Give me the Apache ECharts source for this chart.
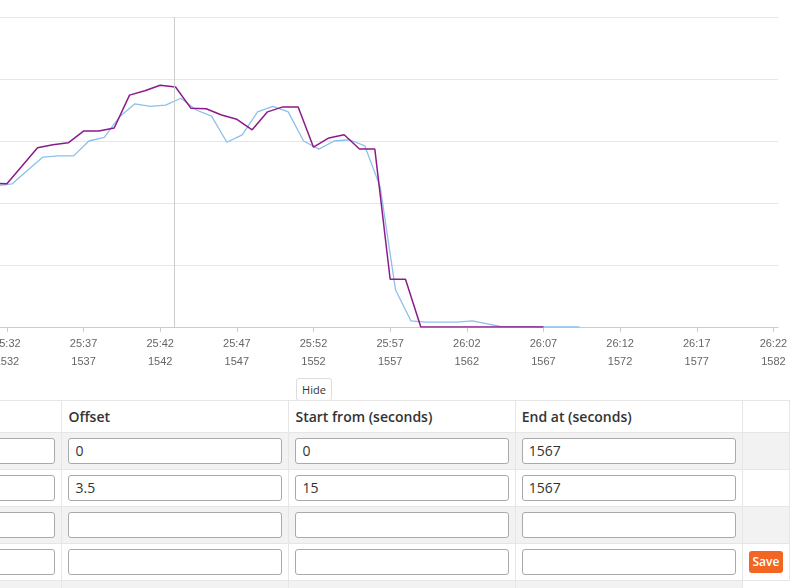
<!DOCTYPE html>
<html><head><meta charset="utf-8">
<script src="https://cdn.jsdelivr.net/npm/echarts@6/dist/echarts.min.js"></script>
<style>
body{margin:0;width:800px;height:588px;overflow:hidden;background:#fff;font-family:"Open Sans",sans-serif;color:#333}
#chart{position:absolute;left:0;top:0;width:800px;height:375px}
#hide{position:absolute;left:296px;top:378px;width:34px;height:21px;border:1px solid #ddd;border-radius:3px;font-size:11px;line-height:21px;text-align:center;background:#fff}
table{position:absolute;left:-10px;top:400px;border-collapse:collapse;font-size:14px}
td,th{border:1px solid #e6e6e6;padding:0 6px;box-sizing:border-box}
th{height:32px;text-align:left;font-weight:600}
tr.g td{background:#f2f2f2}
td{height:37px}
.in{height:26px;border:1px solid #aaa;border-radius:3px;background:#fff;box-sizing:border-box;padding:2px 6px;font-size:14px;line-height:20px}
.save{background:#f26522;color:#fff;border-radius:3px;font-size:12px;font-weight:600;width:34px;height:22px;line-height:22px;text-align:center}
</style></head><body>
<div id="chart"></div>
<div id="hide">Hide</div>
<table>
<tr><th style="width:72px"></th><th style="width:229px">Offset</th><th style="width:228px">Start from (seconds)</th><th style="width:229px">End at (seconds)</th><th style="width:47px"></th></tr>
<tr class="g"><td><div class="in"></div></td><td><div class="in">0</div></td><td><div class="in">0</div></td><td><div class="in">1567</div></td><td></td></tr>
<tr><td><div class="in"></div></td><td><div class="in">3.5</div></td><td><div class="in">15</div></td><td><div class="in">1567</div></td><td></td></tr>
<tr class="g"><td><div class="in"></div></td><td><div class="in"></div></td><td><div class="in"></div></td><td><div class="in"></div></td><td></td></tr>
<tr><td><div class="in"></div></td><td><div class="in"></div></td><td><div class="in"></div></td><td><div class="in"></div></td><td><div class="save">Save</div></td></tr>
<tr class="g"><td style="height:10px"></td><td></td><td></td><td></td><td style="background:#fff;border:none"></td></tr>
</table>
<script>
const purpleT = [1531,1532,1534,1535,1536,1537,1538,1539,1540,1541,1542,1543,1544,1545,1546,1547,1548,1549,1550,1551,1552,1553,1554,1555,1556,1557,1558,1559,1560,1561,1562,1563,1564,1565,1566,1567];
const purpleV = [2.32,2.31,2.89,2.94,2.97,3.16,3.16,3.21,3.74,3.81,3.90,3.87,3.53,3.52,3.42,3.35,3.18,3.47,3.55,3.55,2.90,3.05,3.10,2.87,2.87,0.77,0.77,0,0,0,0,0,0,0,0,0];
const blueT = [1531.35,1532.35,1533.35,1534.35,1535.35,1536.35,1537.35,1538.35,1539.35,1540.35,1541.35,1542.35,1543.35,1544.35,1545.35,1546.35,1547.35,1548.35,1549.35,1550.35,1551.35,1552.35,1553.35,1554.35,1555.35,1556.35,1557.35,1558.35,1559.35,1560.35,1561.35,1562.35,1563.35,1564.35,1565.35,1566.35,1567.35,1568.35,1569.35];
const blueV = [2.28,2.31,2.53,2.74,2.76,2.76,3.00,3.06,3.39,3.60,3.56,3.58,3.69,3.50,3.40,2.98,3.10,3.47,3.56,3.47,3.00,2.87,3.00,3.02,2.92,2.26,0.60,0.10,0.08,0.08,0.08,0.10,0.05,0,0,0,0,0,0];
const cursorT = 1542.9;
const tickVals = [1532,1537,1542,1547,1552,1557,1562,1567,1572,1577,1582];
const fmt = s => Math.floor(s/60)+':'+String(s%60).padStart(2,'0')+'\n'+s;
const ch = echarts.init(document.getElementById('chart'));
ch.setOption({
  animation:false,
  grid:{left:0,right:22,top:17,bottom:48,containLabel:false,outerBoundsMode:'none'},
  xAxis:{type:'value',min:1531.55,max:1582.3,
    axisLine:{lineStyle:{color:'#ccc'}},
    splitLine:{show:false},
    axisLabel:{customValues:tickVals,formatter:v=>fmt(v),color:'#666',fontSize:11,lineHeight:18},
    axisTick:{customValues:tickVals,lineStyle:{color:'#ccc'}}},
  yAxis:{type:'value',min:0,max:5,interval:1,axisLabel:{show:false},axisLine:{show:false},axisTick:{show:false},splitLine:{lineStyle:{color:'#e6e6e6'}}},
  series:[
    {type:'line',data:blueT.map((t,i)=>[t,blueV[i]]),showSymbol:false,lineStyle:{color:'#8cc0ea',width:1.3},
     markLine:{silent:true,symbol:'none',label:{show:false},lineStyle:{color:'#ccc',type:'solid',width:1},data:[{xAxis:cursorT}]}},
    {type:'line',data:purpleT.map((t,i)=>[t,purpleV[i]]),showSymbol:false,lineStyle:{color:'#8b1a8b',width:1.5}}
  ]
});
</script>
</body></html>
